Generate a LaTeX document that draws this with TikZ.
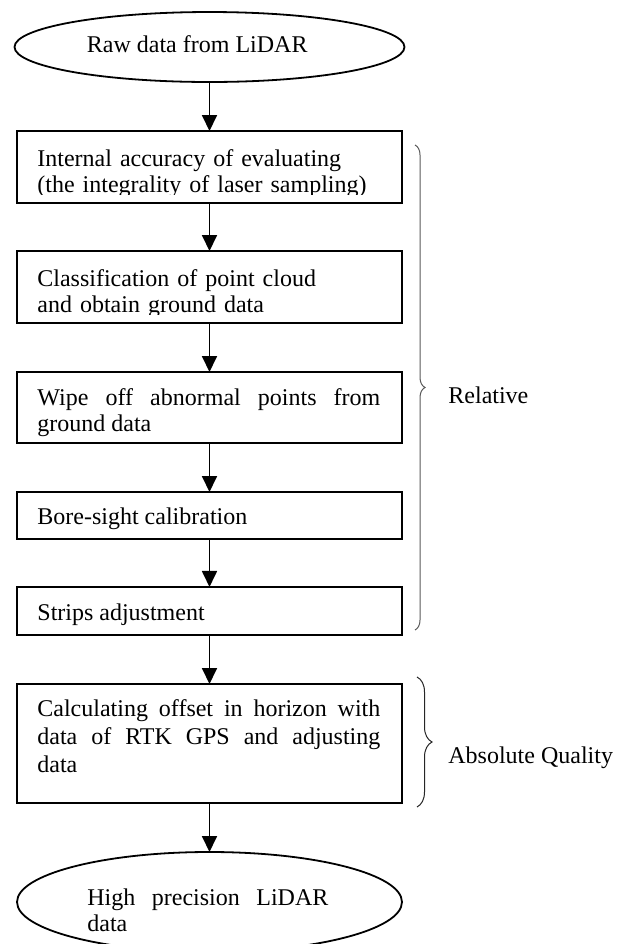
\documentclass[tikz,border=0pt]{standalone}
\usepackage{fontspec}
\setmainfont{Liberation Serif}
\usetikzlibrary{shapes.geometric,arrows.meta,decorations.pathreplacing}
\hyphenpenalty=10000
\exhyphenpenalty=10000
\tolerance=9000

\tikzset{
  box/.style={draw,line width=1pt,minimum width=6.766cm,inner sep=0pt,outer sep=0pt},
  oval/.style={draw,ellipse,line width=0.9pt,inner sep=0pt,outer sep=0pt},
  txt/.style={anchor=base west,inner sep=0pt,font=\fontsize{12}{13.4}\selectfont},
  arr/.style={line width=0.9pt,-{Triangle[length=8pt,width=7.5pt]}},
  brc/.style={decorate,decoration={brace,amplitude=#1},line width=0.5pt},
}

\begin{document}
\begin{tikzpicture}
\clip (0,0) rectangle (10.932,-16.591);
% flow boxes
\node[oval,minimum width=6.854cm,minimum height=1.230cm] (raw) at (3.682,-0.826) {};
\node[box,minimum height=1.265cm] (b1) at (3.682,-2.935) {};
\node[box,minimum height=1.265cm] (b2) at (3.682,-5.044) {};
\node[box,minimum height=1.248cm] (b3) at (3.682,-7.162) {};
\node[box,minimum height=0.826cm] (b4) at (3.682,-9.060) {};
\node[box,minimum height=0.844cm] (b5) at (3.682,-10.738) {};
\node[box,minimum height=2.091cm] (b6) at (3.682,-13.067) {};
\node[oval,minimum width=6.766cm,minimum height=1.758cm] (out) at (3.682,-15.853) {};

% text in the boxes
\node[txt] (raw-t) at ([shift={(-61.5pt,-2.5pt)}]raw.center) {Raw data from LiDAR};
\begin{scope}
\clip ([yshift=4.3pt]b1.south west) rectangle (b1.north east);
\node[txt,text width=171.5pt,align=left] (b1-t) at ([shift={(10pt,-17.5pt)}]b1.north west)
  {Internal accuracy of evaluating\\(the integrality of laser sampling)};
\end{scope}
\begin{scope}
\clip ([yshift=4.3pt]b2.south west) rectangle (b2.north east);
\node[txt,text width=171.5pt,align=left] (b2-t) at ([shift={(10pt,-17.5pt)}]b2.north west)
  {Classification of point cloud\\and obtain ground data};
\end{scope}
\node[txt,text width=171.5pt,align=justify] (b3-t) at ([shift={(10pt,-16.5pt)}]b3.north west)
  {Wipe off abnormal points from ground data};
\node[txt] (b4-t) at ([shift={(10pt,-16pt)}]b4.north west) {Bore-sight calibration};
\node[txt] (b5-t) at ([shift={(10pt,-17pt)}]b5.north west) {Strips adjustment};
\node[txt,text width=171.5pt,align=justify,font=\fontsize{12}{14}\selectfont] (b6-t)
  at ([shift={(10pt,-16.3pt)}]b6.north west)
  {Calculating offset in horizon with data of RTK GPS and adjusting\linebreak data};
\node[txt,text width=120.5pt,align=justify,font=\fontsize{12}{13}\selectfont] (out-t)
  at ([shift={(-61.25pt,-1.85pt)}]out.center) {High precision LiDAR data};

% arrows
\draw[arr] (raw.south) -- (b1.north);
\draw[arr] (b1.south) -- (b2.north);
\draw[arr] (b2.south) -- (b3.north);
\draw[arr] (b3.south) -- (b4.north);
\draw[arr] (b4.south) -- (b5.north);
\draw[arr] (b5.south) -- (b6.north);
\draw[arr] (b6.south) -- (out.north);

% braces
\coordinate (r-top) at (7.294,-2.548);
\coordinate (r-bot) at (7.294,-11.072);
\draw[brc=5pt,black!65] (r-top) -- (r-bot);
\node[txt] (rel) at (7.874,-7.100) {Relative};
\coordinate (a-top) at (7.329,-11.898);
\coordinate (a-bot) at (7.329,-14.183);
\draw[brc=7.5pt,black!85] (a-top) -- (a-bot);
\node[txt] (abs) at (7.874,-13.427) {Absolute Quality};
\end{tikzpicture}
\end{document}
